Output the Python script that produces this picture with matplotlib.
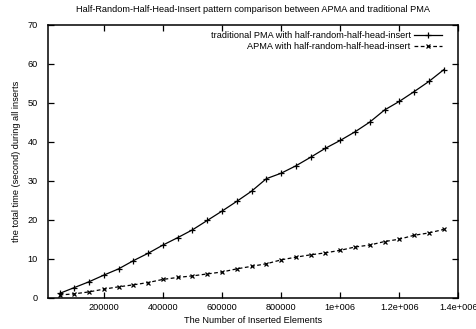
import numpy as np
import matplotlib
matplotlib.use('agg')
import matplotlib.pyplot as plt

plt.rcParams['font.family'] = ['Liberation Sans', 'DejaVu Sans']

# inserted elements, one run every 50000
n_elements = np.arange(50000, 1350001, 50000)

pma_times = [1.1, 2.6, 4.1, 5.8, 7.4, 9.5, 11.4, 13.5, 15.4, 17.4, 19.8, 22.2, 24.7, 27.3,
             30.5, 31.9, 33.8, 36.0, 38.3, 40.3, 42.5, 45.0, 48.1, 50.3, 52.8, 55.4, 58.4]
apma_times = [0.7, 1.0, 1.5, 2.2, 2.8, 3.3, 3.9, 4.7, 5.2, 5.6, 6.1, 6.6, 7.4, 8.05,
              8.7, 9.7, 10.4, 11.0, 11.5, 12.15, 13.0, 13.5, 14.4, 15.0, 16.0, 16.6, 17.5]

xticks = [200000, 400000, 600000, 800000, 1000000, 1200000, 1400000]
xtick_labels = ['200000', '400000', '600000', '800000', '1e+006', '1.2e+006', '1.4e+006']

fs = 6.6

fig = plt.figure(figsize=(4.77, 3.29), dpi=100)
ax = fig.add_axes([0.1, 0.095, 0.861, 0.8305])

ax.plot(n_elements, pma_times, color='black', linestyle='-', linewidth=0.9,
        marker='+', markersize=4, markeredgewidth=0.9,
        label='traditional PMA with half-random-half-head-insert')
ax.plot(n_elements, apma_times, color='black', linestyle=(0, (3, 2)), linewidth=0.9,
        marker='x', markersize=3.5, markeredgewidth=0.9,
        label='APMA with half-random-half-head-insert')

ax.set_xlim(10000, 1400000)
ax.set_ylim(0, 70)
ax.set_xticks(xticks)
ax.set_xticklabels(xtick_labels)
ax.set_yticks(np.arange(0, 71, 10))
ax.tick_params(direction='in', length=4, width=0.9, top=True, right=True,
               labelsize=fs)
ax.tick_params(axis='x', pad=4)
ax.tick_params(axis='y', pad=7)
for sp in ax.spines.values():
    sp.set_linewidth(1.1)

ax.set_title('Half-Random-Half-Head-Insert pattern comparison between APMA and traditional PMA',
             fontsize=fs, pad=9)
ax.set_xlabel('The Number of Inserted Elements', fontsize=fs, labelpad=3)
ax.set_ylabel('the total time (second) during all inserts', fontsize=fs, labelpad=5)

ax.legend(loc='upper right', frameon=False, fontsize=fs, markerfirst=False,
          handlelength=3.0, handletextpad=0.4, labelspacing=0.2,
          borderaxespad=0.3, bbox_to_anchor=(0.975, 1.0))

plt.savefig('out.png', dpi=100)
